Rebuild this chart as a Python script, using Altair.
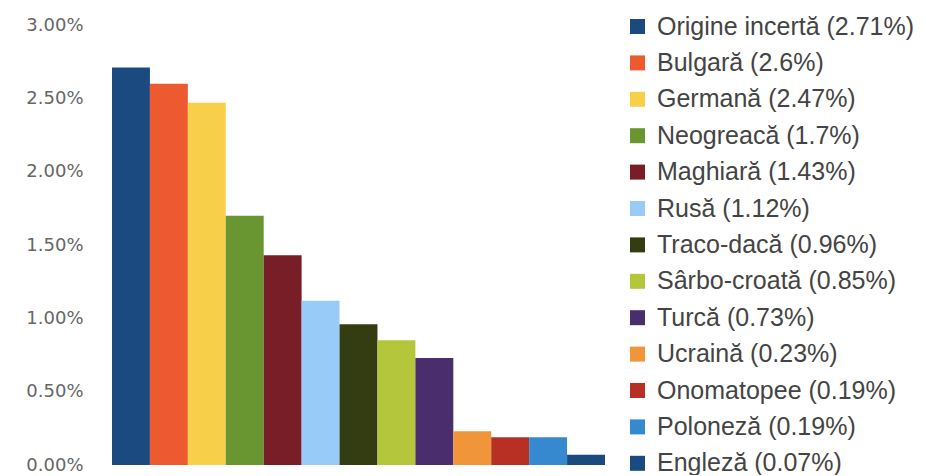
import altair as alt
import pandas as pd

names = ["Origine incertă", "Bulgară", "Germană", "Neogreacă", "Maghiară", "Rusă",
         "Traco-dacă", "Sârbo-croată", "Turcă", "Ucraină", "Onomatopee", "Poloneză", "Engleză"]
percents = [2.71, 2.6, 2.47, 1.7, 1.43, 1.12, 0.96, 0.85, 0.73, 0.23, 0.19, 0.19, 0.07]
colors = ["#1a4a80", "#ee5a30", "#f8cf48", "#6a9632", "#771e27", "#98cbf7",
          "#343d12", "#b4c63a", "#4a2d6c", "#f0953a", "#b83024", "#3689ce", "#1a4a80"]
y_ticks = [0, 0.005, 0.01, 0.015, 0.02, 0.025, 0.03]

labels = [f"{n} ({p:g}%)" for n, p in zip(names, percents)]
df = pd.DataFrame({"label": labels, "value": [p / 100 for p in percents]})

chart = alt.Chart(df).mark_bar().encode(
    x=alt.X("label:N", sort=labels, axis=None,
            scale=alt.Scale(paddingInner=0, paddingOuter=0)),
    y=alt.Y("value:Q", scale=alt.Scale(domain=[0, 0.03], nice=False),
            axis=alt.Axis(values=y_ticks, format=".2%", title=None, grid=False,
                          domain=False, ticks=False, labelPadding=29,
                          labelFont="DejaVu Sans", labelFontSize=18,
                          labelColor="#666666")),
    color=alt.Color("label:N", sort=labels,
                    scale=alt.Scale(domain=labels, range=colors),
                    legend=alt.Legend(title=None, orient="none", legendX=513, legendY=-11,
                                      symbolType="square", symbolSize=225,
                                      symbolStrokeWidth=0, labelFont="Liberation Sans",
                                      labelFontSize=25, labelColor="#444444",
                                      labelOffset=7, rowPadding=10.4, labelLimit=400)),
).properties(
    width=493, height=440,
    autosize=alt.AutoSizeParams(type="none"),
    padding={"left": 104, "top": 17, "right": 310, "bottom": 10},
).configure_view(stroke=None)

chart.save("out.html", embed_options={"renderer": "svg", "actions": False})
